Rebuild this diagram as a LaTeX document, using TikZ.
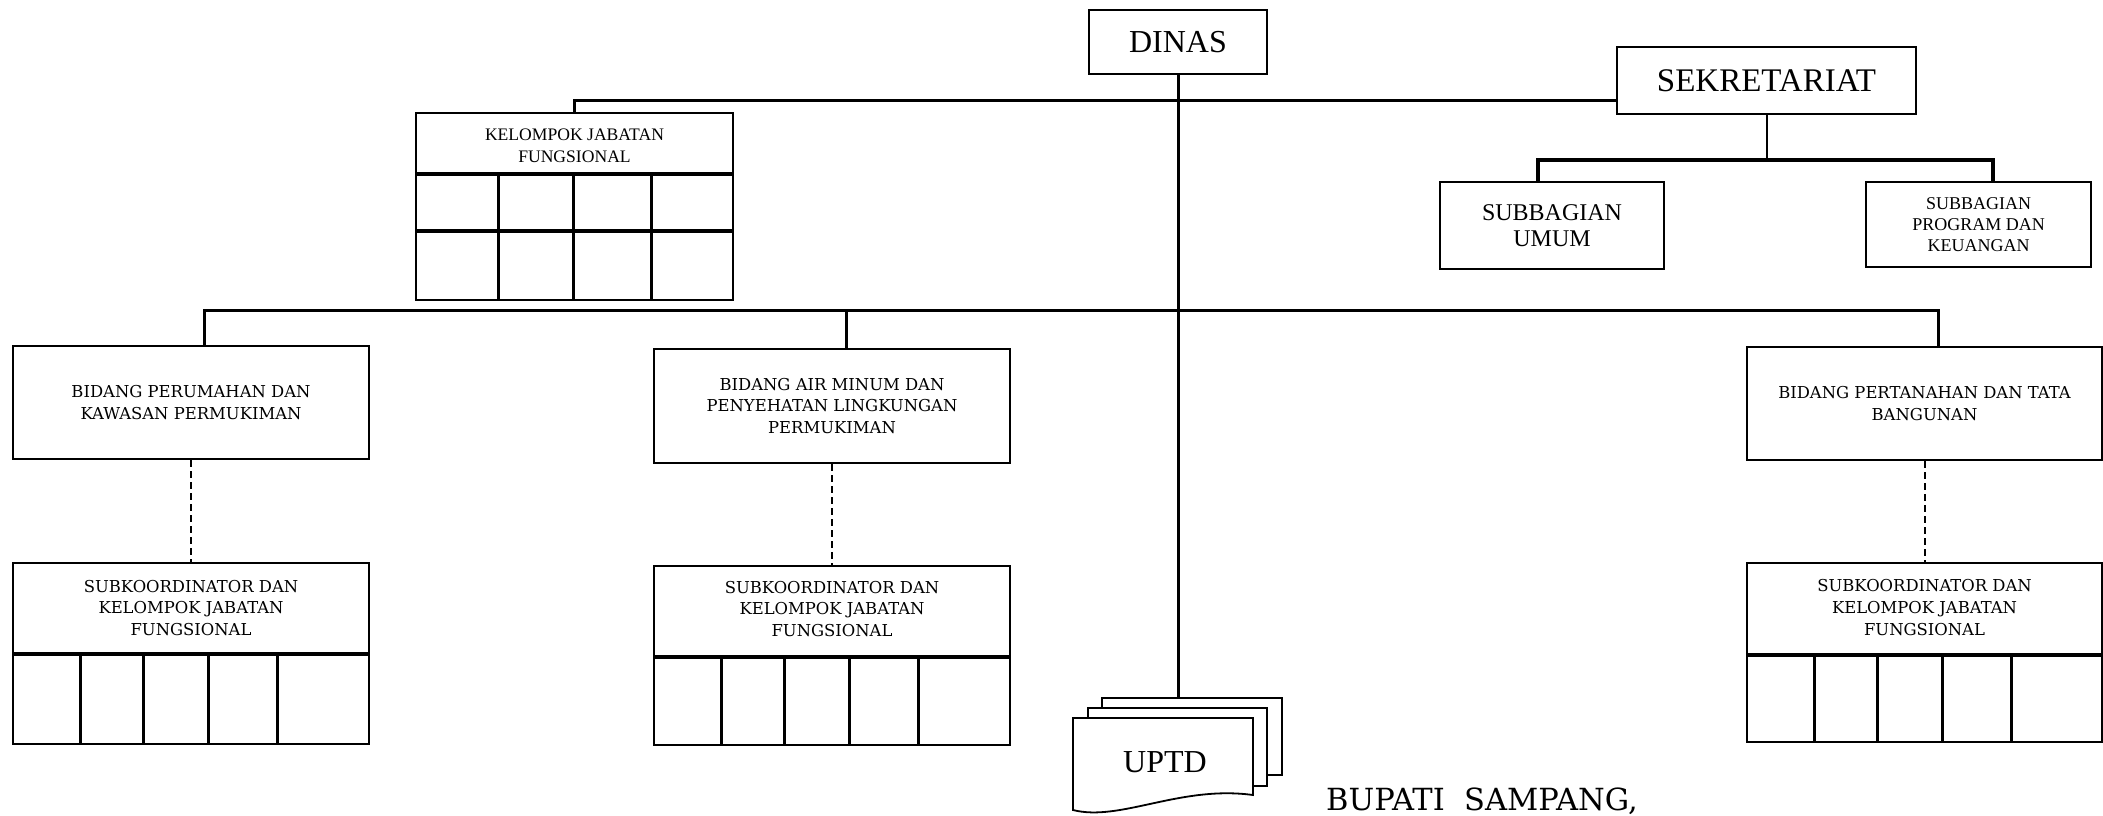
\documentclass[tikz,border=0pt]{standalone}
\usepackage{fontspec}
\setmainfont{Liberation Serif}
\newfontfamily\bkfont{DejaVu Serif}
\begin{document}
\begin{tikzpicture}[x=1pt,y=-1pt,
  box/.style={draw, line width=2pt, inner sep=0pt, align=center, fill=white},
  conn/.style={line width=3pt},
  thickrule/.style={line width=3.5pt},
  colrule/.style={line width=3pt},
  dashline/.style={line width=2pt, dash pattern=on 7pt off 4pt},
  sheet/.style={draw, fill=white, line width=1.8pt, inner sep=0pt},
  bigtm/.style={font=\fontsize{32}{38}\selectfont},
  smalltm/.style={font=\fontsize{17.6}{21.7}\selectfont, align=center, inner sep=0pt},
  bk/.style={font=\bkfont\fontsize{16.4}{21.7}\selectfont, align=center, inner sep=0pt}
]
\fill[white] (0,0) rectangle (2103,815);
\useasboundingbox (0,0) rectangle (2103,815);

% ---- top
\node[box, bigtm, minimum width=178pt, minimum height=64pt] (dinas) at (1178,42) {DINAS};
\node[box, font=\fontsize{33}{38}\selectfont, minimum width=299pt, minimum height=67pt] (sek) at (1766.5,80.5) {SEKRETARIAT};
\node[box, font=\fontsize{24}{26}\selectfont, minimum width=224pt, minimum height=87pt] (sbu) at (1552,225.5) {SUBBAGIAN\\UMUM};
\node[box, font=\fontsize{18}{21}\selectfont, minimum width=225pt, minimum height=85pt] (sbp) at (1978.5,224.5) {SUBBAGIAN\\PROGRAM DAN\\KEUANGAN};

% ---- kelompok jabatan fungsional (top-left)
\node[box, minimum width=317pt, minimum height=187pt] (kjf) at (574.5,206.5) {};
\node[smalltm] (kjft) at (574.5,146) {KELOMPOK JABATAN\\FUNGSIONAL};
\coordinate (kh) at (0,174);
\coordinate (kr) at (0,231);
\draw[thickrule] (kjf.west |- kh) -- (kjf.east |- kh);
\draw[thickrule] (kjf.west |- kr) -- (kjf.east |- kr);
\foreach \x in {498,573,651} \draw[colrule] (\x,174) -- (\x,300);

% ---- bidang
\node[box, bk, minimum width=356pt, minimum height=113pt] (bid1) at (191,402.5) {BIDANG PERUMAHAN DAN\\KAWASAN PERMUKIMAN};
\node[box, bk, minimum width=356pt, minimum height=114pt] (bid2) at (832,406) {BIDANG AIR MINUM DAN\\PENYEHATAN LINGKUNGAN\\PERMUKIMAN};
\node[box, bk, minimum width=355pt, minimum height=113pt] (bid3) at (1924.5,403.5) {BIDANG PERTANAHAN DAN TATA\\BANGUNAN};

% ---- subkoordinator boxes
\node[box, minimum width=356pt, minimum height=181pt] (sub1) at (191,653.5) {};
\node[box, minimum width=356pt, minimum height=179pt] (sub2) at (832,655.5) {};
\node[box, minimum width=355pt, minimum height=179pt] (sub3) at (1924.5,652.5) {};
\node[bk] (sub1t) at (191,608) {SUBKOORDINATOR DAN\\KELOMPOK JABATAN\\FUNGSIONAL};
\node[bk] (sub2t) at (832,609) {SUBKOORDINATOR DAN\\KELOMPOK JABATAN\\FUNGSIONAL};
\node[bk] (sub3t) at (1924.5,607.5) {SUBKOORDINATOR DAN\\KELOMPOK JABATAN\\FUNGSIONAL};
\coordinate (h1) at (0,654);
\coordinate (h2) at (0,657);
\coordinate (h3) at (0,655);
\draw[thickrule] (sub1.west |- h1) -- (sub1.east |- h1);
\draw[thickrule] (sub2.west |- h2) -- (sub2.east |- h2);
\draw[thickrule] (sub3.west |- h3) -- (sub3.east |- h3);
\foreach \x in {80,143,208,277} \draw[colrule] (\x,654) -- (\x,744);
\foreach \x in {721,784,849,918} \draw[colrule] (\x,657) -- (\x,745);
\foreach \x in {1814,1877,1942,2011} \draw[colrule] (\x,655) -- (\x,742);

% ---- UPTD
\node[sheet, minimum width=180pt, minimum height=77pt] (uptdback) at (1192,736.5) {};
\node[sheet, minimum width=179pt, minimum height=78pt] (uptdmid) at (1177.5,747) {};
\draw[line width=1.8pt, fill=white] (1073,718) -- (1253,718) -- (1253,795)
   .. controls (1180,785) and (1120,822) .. (1073,810) -- cycle;
\node[bigtm, inner sep=0pt] (uptd) at (1165,762.5) {UPTD};

% ---- signature
\node[anchor=base west, inner sep=0pt, font=\bkfont\fontsize{30.5}{36}\selectfont] (bupati) at (1326,810) {BUPATI\ \ SAMPANG,};

% ---- connectors
\draw[conn] (dinas.south) -- (dinas.south |- uptdback.north);
\coordinate (kl) at (0,100);
\draw[conn] (kjf.north) -- (kjf.north |- kl) -- (sek.west |- kl);
\coordinate (sl) at (0,160);
\coordinate (s1) at ([xshift=-14pt]sbu.north);
\coordinate (s2) at ([xshift=14.5pt]sbp.north);
\draw[line width=2pt] (sek.south) -- (sek.south |- sl);
\draw[thickrule] (s1) |- (s2 |- sl) -- (s2);
\coordinate (bar) at (0,310);
\coordinate (d1) at ([xshift=13pt]bid1.north);
\coordinate (d2) at ([xshift=14pt]bid2.north);
\coordinate (d3) at ([xshift=13.5pt]bid3.north);
\draw[conn] (d1) |- (d3 |- bar) -- (d3);
\draw[conn] (d2) -- (d2 |- bar);
\draw[dashline] (bid1.south) -- (sub1.north);
\draw[dashline] (bid2.south) -- (sub2.north);
\draw[dashline] (bid3.south) -- (sub3.north);
\end{tikzpicture}
\end{document}
